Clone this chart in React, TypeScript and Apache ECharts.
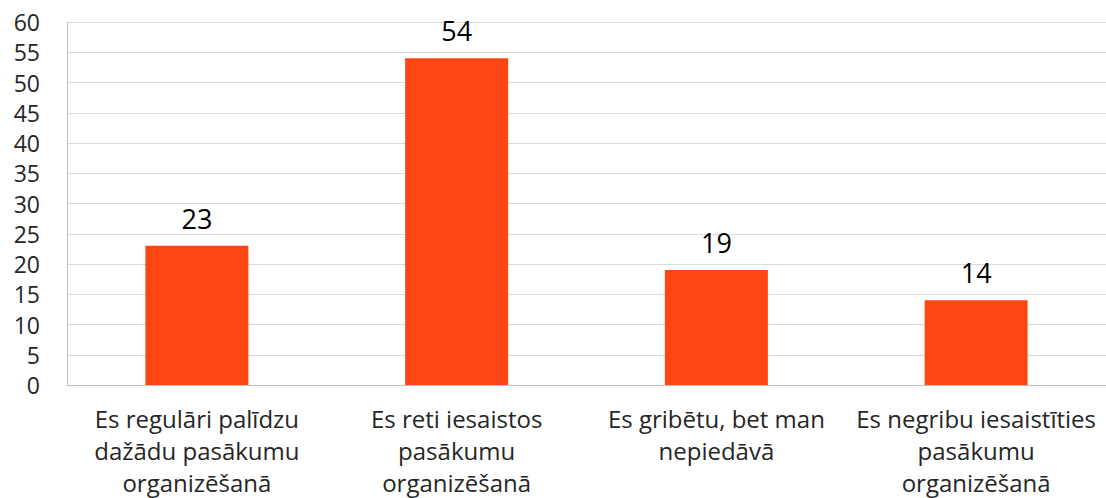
import React, { useEffect, useRef } from "react";
import * as echarts from "echarts";

const categories = [
  "Es regulāri palīdzu\ndažādu pasākumu\norganizēšanā",
  "Es reti iesaistos\npasākumu\norganizēšanā",
  "Es gribētu, bet man\nnepiedāvā",
  "Es negribu iesaistīties\npasākumu\norganizēšanā",
];
const values = [23, 54, 19, 14];

export default function App() {
  const ref = useRef<HTMLDivElement>(null);
  useEffect(() => {
    const chart = echarts.init(ref.current!, null, { renderer: "svg" });
    chart.setOption({
      animation: false,
      grid: { left: 67, right: -1, top: 22, bottom: 113, containLabel: false },
      xAxis: {
        type: "category",
        data: categories,
        axisLine: { show: true, lineStyle: { color: "#bfbfbf", width: 1 } },
        axisTick: { show: false },
        axisLabel: {
          interval: 0,
          margin: 17,
          fontFamily: "Open Sans",
          fontSize: 24,
          lineHeight: 32,
          color: "#262626",
        },
      },
      yAxis: {
        type: "value",
        min: 0,
        max: 60,
        interval: 5,
        axisLine: { show: true, lineStyle: { color: "#bfbfbf", width: 1 } },
        axisTick: { show: false },
        splitLine: { lineStyle: { color: "#d9d9d9", width: 1 } },
        axisLabel: {
          margin: 27,
          fontFamily: "Open Sans",
          fontSize: 23,
          color: "#262626",
        },
      },
      series: [
        {
          type: "bar",
          data: values,
          barWidth: 103,
          itemStyle: { color: "#FF4512" },
          label: {
            show: true,
            position: "top",
            distance: 14,
            fontFamily: "Open Sans",
            fontSize: 27,
            color: "#000000",
          },
        },
      ],
    });
    return () => chart.dispose();
  }, []);
  return (
    <div
      ref={ref}
      style={{ position: "absolute", left: 0, top: 0, width: 1106, height: 498, background: "#fff" }}
    />
  );
}
